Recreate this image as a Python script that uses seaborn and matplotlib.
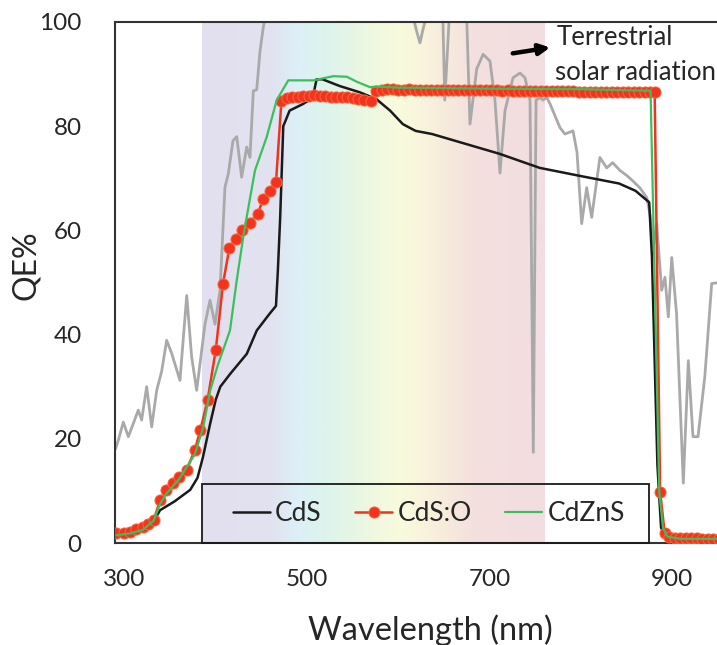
import numpy as np
import pandas as pd
import seaborn as sns
import matplotlib.pyplot as plt
from matplotlib.colors import LinearSegmentedColormap
from matplotlib.patches import Rectangle

# Dados -----------------------------------------------------------------

# CdS (linha preta)
cds_wl = [291, 305, 320, 333, 339, 355, 372, 380, 386, 394, 400, 405, 416, 434,
          445, 459, 466, 468, 470.5, 474, 481, 496, 505, 507.5, 510.5, 517, 536,
          558, 576, 591, 605, 619, 637, 674, 711, 755, 798, 842, 860, 875, 878,
          881, 884, 888, 893, 920, 950]
cds_qe = [1.5, 1.8, 2.5, 4.5, 6.3, 8.0, 10.2, 12.5, 16.5, 23, 27.5, 30, 32.5, 36.3,
          40.8, 44, 45.5, 52, 62, 80, 83, 84.3, 85.3, 86.5, 89, 89, 87.7,
          86.5, 85.2, 83, 80.4, 79.1, 78.5, 76.6, 74.7, 72, 70.5, 69, 67.6, 65.4, 55,
          35, 15, 3, 0.8, 0.5, 0.5]

# CdS:O (linha vermelha com pontos)
cdso_wl = [291, 299, 306, 313, 320, 326, 332, 339, 346, 353, 360, 368, 377, 383,
           391, 400, 408, 415, 422, 429, 437, 446, 452, 459, 466, 472, 478, 484,
           490, 496, 502, 508, 514, 520, 526, 532, 538, 544, 550, 556, 562, 570,
           576, 582, 588, 594, 600, 606, 612, 618, 624, 630, 636, 642, 648, 654,
           660, 666, 672, 678, 684, 690, 696, 702, 708, 714, 720, 726, 732, 738,
           744, 750, 756, 762, 768, 774, 780, 786, 792, 798, 804, 810, 816, 822,
           828, 834, 840, 846, 852, 858, 864, 870, 876, 881, 887, 892, 897, 903,
           909, 915, 921, 927, 933, 939, 945, 951]
cdso_qe = [1.9, 2.0, 2.2, 2.6, 3.1, 3.6, 4.4, 8.2, 10.2, 11.5, 12.6, 14, 17.8, 21.6,
           27.4, 37, 49.8, 56.7, 58.4, 60, 61.5, 63.2, 66, 67.6, 69.2, 84.9, 85.4, 85.6,
           85.7, 85.8, 85.8, 85.9, 85.8, 85.8, 85.7, 85.7, 85.6, 85.6, 85.5, 85.3, 85.0, 84.8,
           86.8, 87.0, 87.1, 87.1, 87.0, 87.0, 87.1, 87.0, 87.0, 86.9, 87.0, 87.0, 87.0, 86.9,
           87.0, 87.0, 86.9, 86.9, 87.0, 86.9, 86.9, 86.9, 86.9, 86.8, 86.9, 86.8, 86.8, 86.8,
           86.8, 86.8, 86.8, 86.7, 86.7, 86.7, 86.7, 86.7, 86.7, 86.6, 86.6, 86.6, 86.6, 86.6,
           86.6, 86.6, 86.5, 86.5, 86.5, 86.5, 86.5, 86.5, 86.5, 86.5, 9.8, 1.9, 1.2, 1.0,
           1.0, 0.9, 0.9, 0.9, 0.8, 0.8, 0.8, 0.8]

# CdZnS (linha verde)
cdzns_wl = [291, 305, 320, 332, 339, 346, 360, 377, 386, 394, 402, 415.6, 423, 430.7,
            443, 455.8, 466.8, 479.5, 506.9, 528.8, 543.5, 555, 569, 576, 600, 700,
            800, 876.5, 886, 890, 895, 910, 950]
cdzns_qe = [1.5, 1.8, 2.5, 4.3, 7.5, 9.5, 12.3, 17, 22, 29.3, 34, 40.8, 50.4, 59.4,
            71.5, 77.9, 85, 88.8, 88.8, 89.6, 89.5, 88.5, 87.5, 87.6, 87.4, 87.2,
            87.1, 86.8, 10, 3, 1.2, 0.8, 0.8]

# radiação solar terrestre (cinza, escala arbitrária)
sol_wl = [290, 293.2, 298.7, 304.2, 309.6, 315.1, 318.8, 324.3, 329.8, 335.3, 340.8,
          346.2, 351.7, 360.8, 368.2, 373.6, 379.1, 388.2, 393.7, 399.2, 404.7, 410.1,
          413.8, 418.9, 423, 428.4, 433.9, 437.5, 441.2, 444.9, 448.5, 452.1, 460, 480,
          500, 530, 560, 590, 612, 620.5, 623.8, 627, 635, 646, 649, 651, 655.6, 662,
          675, 678.6, 686, 693, 700.5, 706, 711.5, 717, 725.8, 733.4, 738.9, 744.4,
          748, 751, 755.3, 758.6, 762.7, 766.3, 777.3, 782.7, 791.5, 795.9, 801, 806.5,
          812, 821, 828.4, 835, 843, 850.7, 857, 864.7, 872.3, 876, 879.5, 883.2, 888.7,
          892.3, 896, 899.7, 905, 912.4, 917.9, 923, 928.5, 936, 943.5, 952]
sol_qe = [18, 19.7, 23.2, 20.4, 22.9, 25.5, 23.6, 30, 22.3, 29.3, 33,
          38.9, 36.4, 31.2, 47.5, 35.7, 29.3, 42, 46.6, 42, 48.5, 68.3,
          70.9, 77.2, 78, 70.2, 76, 74, 86.8, 87, 94.4, 99, 106, 115,
          120, 122, 118, 112, 104, 98, 96, 98.5, 104, 103, 100, 85, 100, 103,
          101, 80.4, 91, 93.8, 92.5, 85, 71, 83, 89.3, 90.2, 89.3, 85,
          17.4, 85, 85.5, 85, 85.5, 84.3, 79.7, 78.5, 79.1, 75, 61.3, 68.2,
          62.5, 74, 72, 73, 71.5, 70.5, 69.5, 68.2, 66.3, 63, 56.8, 61.3, 48.5,
          51, 43.4, 54.8, 44, 11.5, 35, 20.4, 20.4, 32, 49.8, 50]

# faixa do espectro visível (fundo colorido)
faixa_vis = (385, 760)
faixa_cores = ["#e3e0ee", "#e1e2f0", "#dcf0f7", "#dcf4ed", "#ebf7e2",
               "#f9fbdc", "#f8efdc", "#f4e1de", "#f2dde1"]
faixa_pos = [0.0, 0.2, 0.28, 0.36, 0.47, 0.58, 0.68, 0.79, 1.0]

# Figura ----------------------------------------------------------------

sns.set_style("white")
plt.rcParams['font.family'] = ['Lato', 'DejaVu Sans']

fig = plt.figure(figsize=(7.17, 6.45), dpi=100)
ax = fig.add_axes([115 / 717, 1 - 543 / 645, 605 / 717, 521 / 645])

cmap = LinearSegmentedColormap.from_list("vis", list(zip(faixa_pos, faixa_cores)))
ax.imshow(np.linspace(0, 1, 400).reshape(1, -1), extent=[faixa_vis[0], faixa_vis[1], 0, 100],
          cmap=cmap, aspect='auto', zorder=0)

sol = pd.DataFrame({'wl': sol_wl, 'qe': sol_qe})
cds = pd.DataFrame({'wl': cds_wl, 'qe': cds_qe})
cdso = pd.DataFrame({'wl': cdso_wl, 'qe': cdso_qe})
cdzns = pd.DataFrame({'wl': cdzns_wl, 'qe': cdzns_qe})

sns.lineplot(data=sol, x='wl', y='qe', ax=ax, color='#a9a9a9', lw=2.0, zorder=1,
             sort=False, estimator=None)
sns.lineplot(data=cds, x='wl', y='qe', ax=ax, color='#1a1a1a', lw=1.8, zorder=2,
             sort=False, estimator=None, label='CdS')
sns.lineplot(data=cdso, x='wl', y='qe', ax=ax, color='#f0321e', lw=1.8, zorder=3,
             marker='o', markersize=8, markerfacecolor='#f5321e',
             markeredgecolor='#f26a3c', markeredgewidth=0.7,
             sort=False, estimator=None, label='CdS:O')
sns.lineplot(data=cdzns, x='wl', y='qe', ax=ax, color='#3cbf5a', lw=1.6, zorder=4,
             sort=False, estimator=None, label='CdZnS')

ax.set_xlim(289.6, 952.6)
ax.set_ylim(0, 100)
ax.set_xticks([300, 500, 700, 900])
ax.set_yticks([0, 20, 40, 60, 80, 100])
ax.tick_params(axis='both', length=0, labelsize=17.5, labelcolor='#262626')
ax.tick_params(axis='y', pad=24)
ax.tick_params(axis='x', pad=19)

ax.set_xlabel('Wavelength (nm)', fontsize=23.5, color='#262626')
ax.set_ylabel('QE%', fontsize=23, color='#262626')
ax.xaxis.set_label_coords(0.5216, -0.137)
ax.yaxis.set_label_coords(-0.122, 0.534)

for s in ['top', 'left', 'bottom']:
    ax.spines[s].set_color('#333333')
    ax.spines[s].set_linewidth(1.5)
ax.spines['right'].set_visible(False)

# caixa da legenda (desenhada à parte, como no original)
ax.add_patch(Rectangle((0.1438, 0), 0.739, 0.113, transform=ax.transAxes, fill=False,
                       ec='#1a1a1a', lw=1.3, zorder=5, clip_on=False))
leg = ax.legend(loc='center', bbox_to_anchor=(0.195, 0, 0.648, 0.113), mode='expand',
                ncol=3, borderaxespad=0, borderpad=0, frameon=False, fontsize=19,
                handlelength=1.4, handletextpad=0.2)
for t in leg.get_texts():
    t.set_color('#262626')

ax.annotate('', xy=(769.6, 95.2), xytext=(722.5, 93.9),
            arrowprops=dict(arrowstyle='-|>', lw=3.2, color='black', mutation_scale=16),
            zorder=6)
ax.text(774, 97.1, 'Terrestrial', fontsize=18.5, ha='left', va='center',
        color='#262626', clip_on=False, zorder=6)
ax.text(772, 90.4, 'solar radiation', fontsize=18.5, ha='left', va='center',
        color='#262626', clip_on=False, zorder=6)

plt.savefig('out.png', dpi=100)
